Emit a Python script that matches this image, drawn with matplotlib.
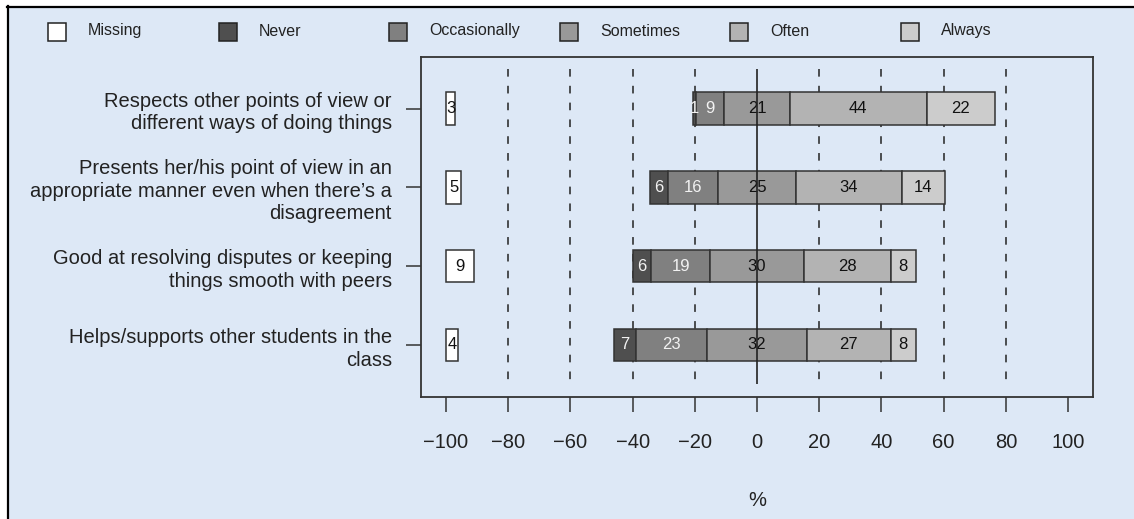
import matplotlib.pyplot as plt
from matplotlib.patches import Rectangle

plt.rcParams['font.family'] = ['Liberation Sans', 'DejaVu Sans']

# survey items (top to bottom)
items = [
    "Respects other points of view or\ndifferent ways of doing things",
    "Presents her/his point of view in an\nappropriate manner even when there\u2019s a\ndisagreement",
    "Good at resolving disputes or keeping\nthings smooth with peers",
    "Helps/supports other students in the\nclass",
]
missing = [3, 5, 9, 4]
never = [1, 6, 6, 7]
occasionally = [9, 16, 19, 23]
sometimes = [21, 25, 30, 32]
often = [44, 34, 28, 27]
always = [22, 14, 8, 8]

legend_names = ["Missing", "Never", "Occasionally", "Sometimes", "Often", "Always"]
colors = ["#ffffff", "#4f4f4f", "#808080", "#999999", "#b3b3b3", "#cccccc"]
text_colors = ["#111111", "#f2f2f2", "#f2f2f2", "#111111", "#111111", "#111111"]

xticks = [-100, -80, -60, -40, -20, 0, 20, 40, 60, 80, 100]
xtick_labels = ["\u2212100", "\u221280", "\u221260", "\u221240", "\u221220", "0",
                "20", "40", "60", "80", "100"]
grid_at = [-80, -60, -40, -20, 20, 40, 60, 80]

bg = "#dde8f6"
edge = "#333333"

fig = plt.figure(figsize=(11.34, 5.19), dpi=100)
fig.patch.set_facecolor("white")

# background panel, pixel coordinates
frame = fig.add_axes([0, 0, 1, 1])
frame.set_xlim(0, 1134)
frame.set_ylim(519, 0)
frame.axis("off")
frame.add_patch(Rectangle((7, 6), 1127, 513, facecolor=bg, edgecolor="none"))
frame.plot([7, 1134], [6.5, 6.5], color="black", lw=1.6)
frame.plot([7.5, 7.5], [6, 519], color="black", lw=1.6)

# legend row
for i, (name, c) in enumerate(zip(legend_names, colors)):
    x0 = 48 + i * 170.6
    frame.add_patch(Rectangle((x0, 23), 18, 18, facecolor=c, edgecolor="#222222", lw=1.1))
    frame.text(x0 + 40, 31, name, ha="left", va="center", fontsize=11.5, color="#222222")

ax = fig.add_axes([0.3713, 0.2351, 0.5925, 0.656])
ax.set_facecolor("none")

h = 0.41
for r in range(len(items)):
    vals = [never[r], occasionally[r], sometimes[r], often[r], always[r]]
    left = -(never[r] + occasionally[r] + sometimes[r] / 2)
    for k, v in enumerate(vals):
        ax.barh(r, v, left=left, height=h, color=colors[k + 1],
                edgecolor=edge, lw=1.1, zorder=3)
        ax.text(left + v / 2, r, str(v), ha="center", va="center",
                fontsize=12, color=text_colors[k + 1], zorder=4)
        left += v
    # missing box at -100
    ax.barh(r, missing[r], left=-100, height=h, color=colors[0],
            edgecolor=edge, lw=1.1, zorder=3)
    ax.text(-100 + missing[r] / 2, r, str(missing[r]), ha="center", va="center",
            fontsize=12, color=text_colors[0], zorder=4)

for g in grid_at:
    ax.vlines(g, -0.5, 3.5, colors="#222222", linestyles=(0, (5, 6)), lw=1.1, zorder=1)
ax.vlines(0, -0.5, 3.5, colors="#222222", lw=1.2, zorder=5)

ax.set_xlim(-108, 108)
ax.set_ylim(3.66, -0.66)
ax.set_xticks(xticks)
ax.set_xticklabels(xtick_labels, fontsize=14.5, color="#222222")
ax.set_yticks(range(len(items)))
ax.set_yticklabels(items, fontsize=14.5, color="#222222", linespacing=1.24)
ax.tick_params(axis="x", length=11, width=1.1, color=edge, pad=15)
ax.tick_params(axis="y", length=11, width=1.1, color=edge, pad=10)
for s in ax.spines.values():
    s.set_color(edge)
    s.set_linewidth(1.3)

ax.set_xlabel("%", fontsize=14.5, color="#222222", labelpad=28)

fig.savefig("out.png", dpi=100)
